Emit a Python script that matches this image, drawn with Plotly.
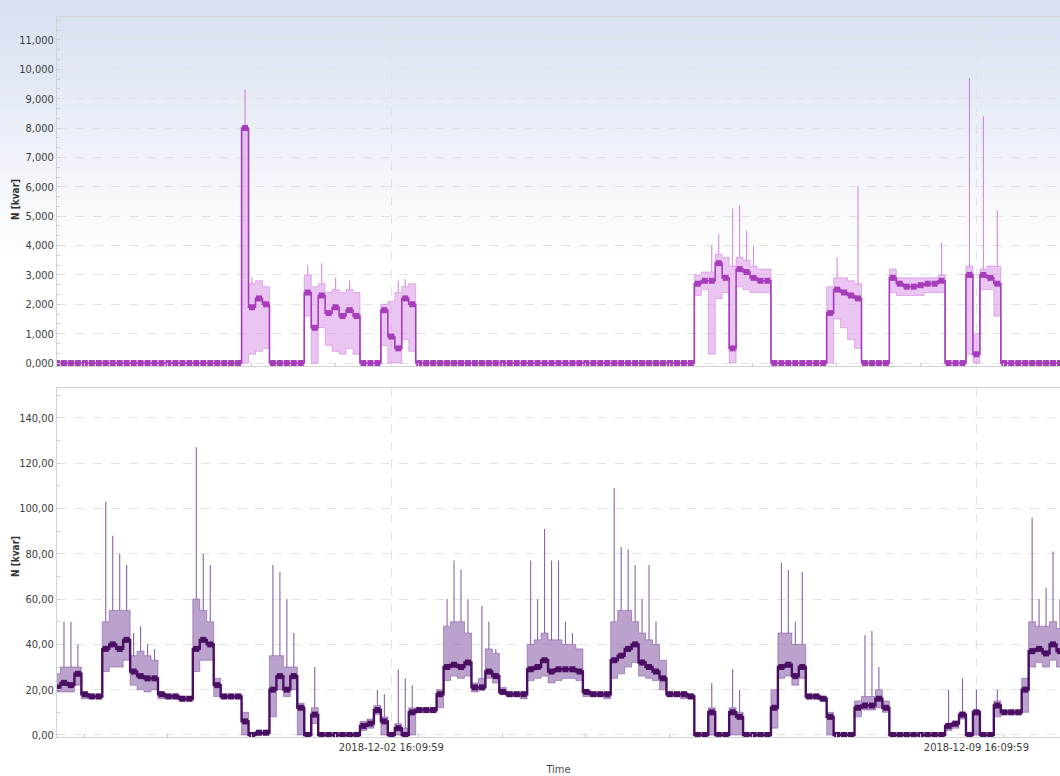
import pandas as pd
import plotly.graph_objects as go

# ---- sampling grid: 2-hour aggregates ----
START = "2018-11-28 16:09:59"
N_POINTS = 145
times = pd.date_range(START, periods=N_POINTS, freq="2h")

# ---- upper channel (kvar, shown with 3 decimals) ----
top_mean = [
    0, 0, 0, 0, 0, 0, 0, 0, 0, 0,
    0, 0, 0, 0, 0, 0, 0, 0, 0, 0,
    0, 0, 0, 0, 0, 0, 0, 8.0, 1.9, 2.2,
    2.0, 0, 0, 0, 0, 0, 2.4, 1.2, 2.3, 1.7,
    1.9, 1.6, 1.8, 1.6, 0, 0, 0, 1.8, 0.9, 0.5,
    2.2, 2.0, 0, 0, 0, 0, 0, 0, 0, 0,
    0, 0, 0, 0, 0, 0, 0, 0, 0, 0,
    0, 0, 0, 0, 0, 0, 0, 0, 0, 0,
    0, 0, 0, 0, 0, 0, 0, 0, 0, 0,
    0, 0, 2.7, 2.8, 2.8, 3.4, 2.9, 0.5, 3.2, 3.1,
    2.9, 2.8, 2.8, 0, 0, 0, 0, 0, 0, 0,
    0, 1.7, 2.5, 2.4, 2.3, 2.2, 0, 0, 0, 0,
    2.9, 2.7, 2.6, 2.6, 2.65, 2.7, 2.7, 2.8, 0, 0,
    0, 3.0, 0.3, 3.0, 2.9, 2.7, 0, 0, 0, 0,
    0, 0, 0, 0, 0,
]
top_min = [
    0, 0, 0, 0, 0, 0, 0, 0, 0, 0,
    0, 0, 0, 0, 0, 0, 0, 0, 0, 0,
    0, 0, 0, 0, 0, 0, 0, 0, 0.3, 0.4,
    0.5, 0, 0, 0, 0, 0, 1.6, 0, 1.2, 0.6,
    0.4, 0.3, 0.5, 0.3, 0, 0, 0, 0.6, 0, 0,
    0.8, 0.4, 0, 0, 0, 0, 0, 0, 0, 0,
    0, 0, 0, 0, 0, 0, 0, 0, 0, 0,
    0, 0, 0, 0, 0, 0, 0, 0, 0, 0,
    0, 0, 0, 0, 0, 0, 0, 0, 0, 0,
    0, 0, 2.3, 2.5, 0.3, 2.2, 2.4, 0, 2.6, 2.5,
    2.4, 2.4, 2.4, 0, 0, 0, 0, 0, 0, 0,
    0, 0, 1.5, 1.2, 0.8, 0.5, 0, 0, 0, 0,
    2.4, 2.3, 2.3, 2.3, 2.3, 2.4, 2.4, 2.4, 0, 0,
    0, 0.3, 0, 2.5, 2.5, 1.6, 0, 0, 0, 0,
    0, 0, 0, 0, 0,
]
# usual upper envelope of the 2-hour window
top_upper = [
    0, 0, 0, 0, 0, 0, 0, 0, 0, 0,
    0, 0, 0, 0, 0, 0, 0, 0, 0, 0,
    0, 0, 0, 0, 0, 0, 0, 8.0, 2.7, 2.8,
    2.6, 0, 0, 0, 0, 0, 3.0, 2.6, 2.7, 2.4,
    2.5, 2.4, 2.5, 2.4, 0, 0, 0, 2.0, 2.1, 2.4,
    2.6, 2.7, 0, 0, 0, 0, 0, 0, 0, 0,
    0, 0, 0, 0, 0, 0, 0, 0, 0, 0,
    0, 0, 0, 0, 0, 0, 0, 0, 0, 0,
    0, 0, 0, 0, 0, 0, 0, 0, 0, 0,
    0, 0, 3.0, 3.1, 3.1, 3.7, 3.6, 3.3, 3.6, 3.5,
    3.3, 3.2, 3.2, 0, 0, 0, 0, 0, 0, 0,
    0, 2.6, 2.9, 2.9, 2.8, 2.7, 0, 0, 0, 0,
    3.2, 2.9, 2.9, 2.9, 2.9, 2.9, 2.9, 3.0, 0, 0,
    0, 3.3, 1.0, 3.2, 3.3, 3.3, 0, 0, 0, 0,
    0, 0, 0, 0, 0,
]
# short peaks inside the window (0 = none)
top_peak = [
    0, 0, 0, 0, 0, 0, 0, 0, 0, 0,
    0, 0, 0, 0, 0, 0, 0, 0, 0, 0,
    0, 0, 0, 0, 0, 0, 0, 9.3, 2.9, 0,
    0, 0, 0, 0, 0, 0, 3.35, 0, 3.4, 0,
    2.9, 0, 2.8, 0, 0, 0, 0, 0, 0, 2.8,
    2.85, 0, 0, 0, 0, 0, 0, 0, 0, 0,
    0, 0, 0, 0, 0, 0, 0, 0, 0, 0,
    0, 0, 0, 0, 0, 0, 0, 0, 0, 0,
    0, 0, 0, 0, 0, 0, 0, 0, 0, 0,
    0, 0, 0, 0, 4.0, 4.4, 0, 5.25, 5.36, 4.5,
    4.0, 0, 0, 0, 0, 0, 0, 0, 0, 0,
    0, 0, 3.6, 0, 0, 6.0, 0, 0, 0, 0,
    0, 0, 0, 0, 0, 0, 0, 4.1, 0, 0,
    0, 9.7, 0, 8.4, 0, 5.2, 0, 0, 0, 0,
    0, 0, 0, 0, 0,
]

# ---- lower channel (kvar, shown with 2 decimals) ----
bot_mean = [
    21, 23, 22, 27, 18, 17, 17, 38, 40, 38,
    42, 28, 26, 25, 25, 18, 17, 17, 16, 16,
    38, 42, 40, 22, 17, 17, 17, 6, 0, 1,
    1, 20, 26, 20, 26, 12, 0, 9, 0, 0,
    0, 0, 0, 0, 4, 5, 11, 6, 0, 3,
    0, 10, 11, 11, 11, 18, 30, 31, 30, 32,
    21, 21, 28, 26, 19, 18, 18, 18, 29, 30,
    33, 28, 29, 29, 29, 28, 19, 18, 18, 18,
    33, 35, 38, 40, 32, 30, 28, 25, 18, 18,
    18, 17, 0, 0, 10, 0, 0, 10, 8, 0,
    0, 0, 0, 12, 30, 31, 26, 30, 17, 17,
    16, 8, 0, 0, 0, 12, 13, 13, 16, 12,
    0, 0, 0, 0, 0, 0, 0, 0, 4, 5,
    9, 0, 10, 0, 0, 13, 10, 10, 10, 20,
    37, 38, 36, 40, 37,
]
bot_min = [
    19, 19, 19, 22, 16, 16, 16, 28, 30, 30,
    33, 22, 20, 19, 20, 16, 16, 16, 15, 15,
    28, 33, 33, 17, 16, 16, 16, 0, 0, 0,
    0, 8, 20, 17, 20, 0, 0, 5, 0, 0,
    0, 0, 0, 0, 2, 3, 9, 0, 0, 0,
    0, 0, 10, 10, 10, 12, 24, 26, 25, 26,
    19, 20, 25, 23, 18, 17, 17, 16, 24, 25,
    26, 23, 24, 25, 25, 24, 17, 17, 17, 16,
    25, 27, 30, 32, 26, 25, 24, 20, 17, 17,
    16, 16, 0, 0, 0, 0, 0, 0, 0, 0,
    0, 0, 0, 3, 25, 26, 22, 25, 16, 16,
    15, 0, 0, 0, 0, 8, 11, 11, 12, 10,
    0, 0, 0, 0, 0, 0, 0, 0, 2, 3,
    7, 0, 0, 0, 0, 8, 9, 9, 9, 10,
    30, 32, 30, 33, 30,
]
bot_upper = [
    27, 30, 30, 30, 18, 18, 18, 50, 55, 55,
    55, 35, 37, 35, 33, 19, 18, 18, 17, 17,
    60, 55, 50, 25, 18, 18, 18, 10, 1, 1,
    1, 35, 35, 30, 30, 14, 1, 12, 1, 1,
    1, 1, 1, 1, 6, 7, 13, 8, 1, 5,
    3, 12, 12, 12, 12, 20, 48, 50, 50, 45,
    23, 25, 38, 36, 21, 19, 19, 19, 40, 42,
    45, 42, 42, 40, 40, 38, 20, 19, 19, 19,
    50, 55, 55, 50, 45, 42, 40, 33, 19, 19,
    19, 18, 1, 1, 12, 1, 1, 12, 10, 1,
    1, 1, 1, 20, 45, 45, 40, 40, 18, 18,
    17, 10, 1, 1, 1, 15, 17, 17, 20, 15,
    1, 1, 1, 1, 1, 1, 1, 1, 5, 6,
    10, 1, 11, 1, 1, 15, 11, 11, 11, 25,
    50, 48, 48, 50, 47,
]
bot_peak = [
    0, 50, 50, 40, 0, 0, 0, 103, 88, 80,
    75, 45, 48, 40, 38, 0, 0, 0, 0, 0,
    127, 80, 75, 0, 0, 0, 0, 0, 0, 0,
    0, 75, 72, 60, 45, 0, 0, 30, 0, 0,
    0, 0, 0, 0, 0, 0, 20, 18, 0, 29,
    25, 22, 0, 0, 0, 0, 60, 77, 73, 60,
    0, 57, 50, 38, 0, 0, 0, 0, 77, 60,
    91, 77, 77, 50, 45, 0, 0, 0, 0, 0,
    109, 83, 82, 75, 60, 75, 50, 0, 0, 0,
    0, 0, 0, 0, 23, 0, 0, 29, 20, 0,
    0, 0, 0, 0, 76, 73, 50, 72, 0, 0,
    0, 0, 0, 0, 0, 0, 44, 46, 30, 0,
    0, 0, 0, 0, 0, 0, 0, 0, 20, 0,
    25, 0, 20, 0, 0, 20, 0, 0, 0, 0,
    96, 60, 65, 81, 60,
]

label_times = ["2018-12-02 16:09:59", "2018-12-09 16:09:59"]
x_range = ["2018-11-28 16:09:59", "2018-12-10 16:09:59"]

FONT = "Liberation Sans Narrow, DejaVu Sans Condensed, Arial Narrow, sans-serif"
GRID = "#e2e2e2"
AXIS = "#d2d2d2"

fig = go.Figure()


def add_channel(fig, yref, lo, upper, peak, mean,
                band_fill, band_line, mean_color, msize, mwidth):
    xa = "x" if yref == "y" else "x2"
    fig.add_trace(go.Scatter(x=times, y=lo, mode="lines", xaxis=xa, yaxis=yref,
                             line=dict(color=band_line, width=0.6, shape="hvh"),
                             hoverinfo="skip"))
    fig.add_trace(go.Scatter(x=times, y=upper, mode="lines", xaxis=xa,
                             yaxis=yref,
                             line=dict(color=band_line, width=0.6, shape="hvh"),
                             fill="tonexty", fillcolor=band_fill,
                             hoverinfo="skip"))
    # peaks drawn as thin vertical stems above the envelope
    sx, sy = [], []
    for t, u, p in zip(times, upper, peak):
        if p > u:
            sx += [t, t, None]
            sy += [u, p, None]
    fig.add_trace(go.Scatter(x=sx, y=sy, mode="lines", xaxis=xa, yaxis=yref,
                             line=dict(color=band_line, width=1.1),
                             hoverinfo="skip"))
    fig.add_trace(go.Scatter(x=times, y=mean, mode="lines+markers",
                             xaxis=xa, yaxis=yref,
                             line=dict(color=mean_color, width=mwidth,
                                       shape="hvh"),
                             marker=dict(symbol="square", size=msize,
                                         color=mean_color)))


add_channel(fig, "y", top_min, top_upper, top_peak, top_mean,
            "rgba(218,150,232,0.55)", "rgba(200,110,216,0.8)", "#a63cba",
            6, 1.6)
add_channel(fig, "y2", bot_min, bot_upper, bot_peak, bot_mean,
            "rgba(140,100,172,0.6)", "rgba(118,72,150,0.85)", "#4a0f62",
            6, 2.4)

# soft blue wash at the top of the page
BANDS = 26
top_px, span_px = 0, 260
for k in range(BANDS):
    t = k / (BANDS - 1)
    r = int(216 + (255 - 216) * t)
    g = int(225 + (255 - 225) * t)
    b = int(242 + (255 - 242) * t)
    p0 = top_px + span_px * k / BANDS
    p1 = top_px + span_px * (k + 1) / BANDS
    fig.add_shape(type="rect", xref="paper", yref="paper", layer="below",
                  x0=-0.08, x1=1.02,
                  y0=(737 - p1) / 720, y1=(737 - p0) / 720,
                  fillcolor=f"rgb({r},{g},{b})", line=dict(width=0))

common_x = dict(
    type="date", range=x_range, showline=True, linecolor=AXIS, mirror=True,
    tickvals=label_times, showgrid=True, gridcolor=GRID, griddash="dash",
    ticks="", zeroline=False,
    minor=dict(tick0="2018-11-29 00:00:00", dtick=86400000, ticks="inside",
               ticklen=3, tickcolor="#c8c8c8", showgrid=False),
)
fig.update_layout(
    xaxis=dict(common_x, anchor="y", showticklabels=False, matches="x2"),
    xaxis2=dict(common_x, anchor="y2",
                ticktext=label_times,
                tickfont=dict(size=11, color="#3c3c3c"),
                title=dict(text="Time", standoff=12,
                           font=dict(size=11, color="#4a4a4a"))),
    yaxis=dict(domain=[0.5153, 1.0], anchor="x", range=[-0.1, 11.78],
               tickvals=list(range(0, 12)), tickformat=".3f",
               showgrid=True, gridcolor=GRID, griddash="dash",
               showline=True, linecolor=AXIS, mirror=True, zeroline=False,
               ticks="", tickfont=dict(size=11, color="#3c3c3c"),
               minor=dict(dtick=1 / 3, ticks="inside", ticklen=3,
                          tickcolor="#cfcfcf", showgrid=False)),
    yaxis2=dict(domain=[0.0, 0.4847], anchor="x2", range=[-0.9, 153.2],
                tickvals=list(range(0, 141, 20)), tickformat=".2f",
                showgrid=True, gridcolor=GRID, griddash="dash",
                showline=True, linecolor=AXIS, mirror=True, zeroline=False,
                ticks="", tickfont=dict(size=11, color="#3c3c3c"),
                minor=dict(dtick=10, ticks="inside", ticklen=3,
                           tickcolor="#cfcfcf", showgrid=False)),
    annotations=[
        dict(text="<b>N [kvar]</b>", xref="paper", yref="paper",
             x=-42 / 1003, y=(737 - 200) / 720, textangle=-90,
             xanchor="center", yanchor="middle",
             showarrow=False, font=dict(size=10, color="#333")),
        dict(text="<b>N [kvar]</b>", xref="paper", yref="paper",
             x=-42 / 1003, y=(737 - 557) / 720, textangle=-90,
             xanchor="center", yanchor="middle",
             showarrow=False, font=dict(size=10, color="#333")),
    ],
    width=1060, height=776,
    margin=dict(l=57, r=0, t=17, b=39, autoexpand=False),
    paper_bgcolor="white", plot_bgcolor="rgba(0,0,0,0)",
    separators=",.", showlegend=False,
    font=dict(family=FONT, size=11, color="#3c3c3c"),
)

fig.write_html("out.html")
